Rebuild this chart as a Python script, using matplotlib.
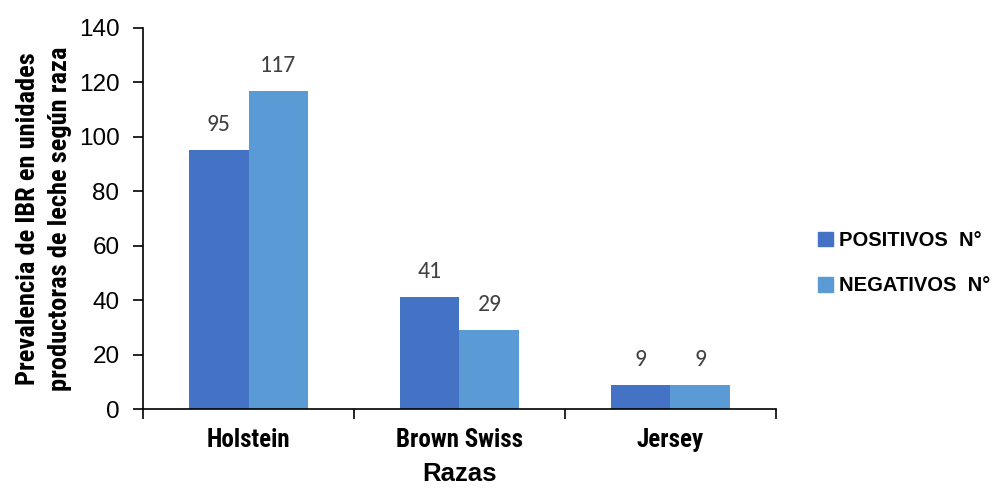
import numpy as np
import matplotlib
matplotlib.use("Agg")
import matplotlib.pyplot as plt
from matplotlib.patches import Patch

razas = ["Holstein", "Brown Swiss", "Jersey"]
positivos = [95, 41, 9]
negativos = [117, 29, 9]
series_names = ["POSITIVOS  N°", "NEGATIVOS  N°"]
y_ticks = [0, 20, 40, 60, 80, 100, 120, 140]

COL_POS = "#4472C4"
COL_NEG = "#5B9BD5"

plt.rcParams["font.family"] = ["Liberation Sans", "DejaVu Sans"]
NARROW = ["Roboto Condensed", "PT Sans Narrow", "Liberation Sans", "DejaVu Sans"]
LABELS = ["Carlito", "Liberation Sans", "DejaVu Sans"]

fig = plt.figure(figsize=(10.05, 4.9), dpi=100)
ax = fig.add_axes([0.1423, 0.1653, 0.6298, 0.7776])

x = np.arange(len(razas))
w = 0.284
b1 = ax.bar(x - w / 2, positivos, w, color=COL_POS)
b2 = ax.bar(x + w / 2, negativos, w, color=COL_NEG)

# value labels above each bar
for bars, vals in ((b1, positivos), (b2, negativos)):
    for r, v in zip(bars, vals):
        ax.text(r.get_x() + r.get_width() / 2, v + 5.5, str(v),
                ha="center", va="bottom", fontsize=17, color="#404040",
                family=LABELS)

ax.set_xlim(-0.5, 2.5)
ax.set_ylim(0, 140)
ax.set_yticks(y_ticks)
ax.set_yticklabels([str(t) for t in y_ticks], fontsize=17.5)
# group separators as major ticks, names centred under groups
ax.set_xticks([-0.5, 0.5, 1.5, 2.5])
ax.set_xticklabels([])
ax.set_xticks(x, minor=True)
ax.set_xticklabels(razas, minor=True, fontsize=18, fontweight="bold", family=NARROW)
ax.tick_params(axis="x", which="minor", length=0, pad=14)
ax.tick_params(axis="x", which="major", length=7, direction="out", width=1.2)
ax.tick_params(axis="y", length=7, direction="out", width=1.2, pad=10)

for s in ("top", "right"):
    ax.spines[s].set_visible(False)
for s in ("left", "bottom"):
    ax.spines[s].set_linewidth(1.2)

ax.set_xlabel("Razas", fontsize=18.5, fontweight="bold", labelpad=7)
ax.set_ylabel("Prevalencia de IBR en unidades\nproductoras de leche según raza",
              fontsize=19, fontweight="bold", family=NARROW, labelpad=5,
              linespacing=1.4)

handles = [Patch(color=COL_POS), Patch(color=COL_NEG)]
fig.legend(handles, series_names, loc="center left",
           bbox_to_anchor=(0.796, 0.463), frameon=False,
           prop={"weight": "bold", "size": 14.5},
           handlelength=0.75, handleheight=0.75, handletextpad=0.3,
           labelspacing=1.3)

fig.savefig("out.png", dpi=100)
